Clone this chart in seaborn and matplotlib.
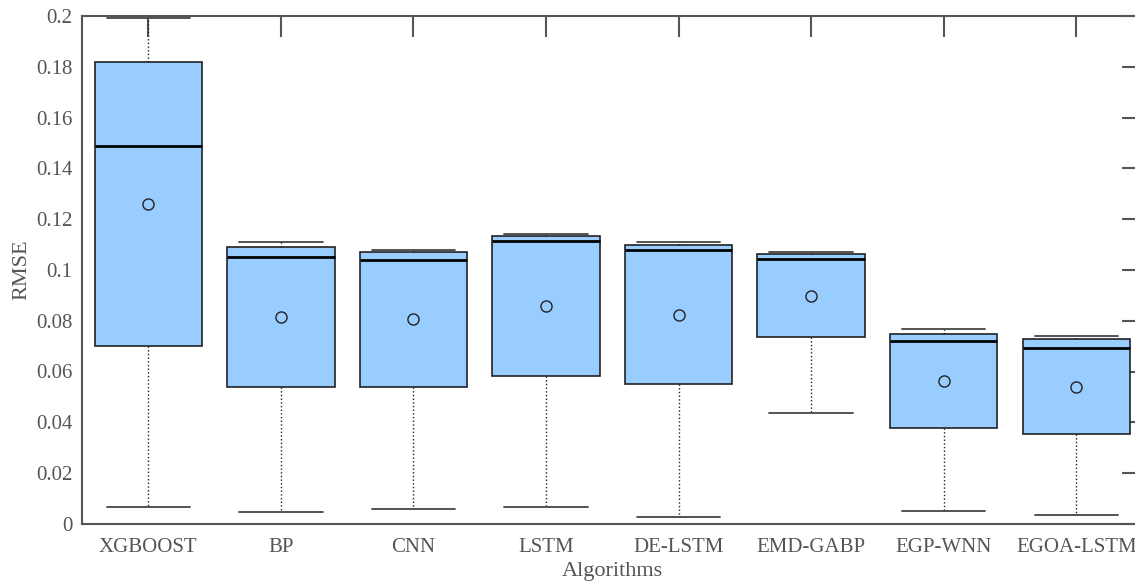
import numpy as np
import pandas as pd
import matplotlib
matplotlib.use("Agg")
import matplotlib.pyplot as plt
import matplotlib.ticker as mticker
import seaborn as sns

# Values (five-number summary + mean per model)
algorithms = ["XGBOOST", "BP", "CNN", "LSTM", "DE-LSTM", "EMD-GABP", "EGP-WNN", "EGOA-LSTM"]
lower_whisker = [0.0065, 0.0045, 0.0058, 0.0066, 0.0028, 0.0436, 0.0050, 0.0036]
q1 = [0.0700, 0.0538, 0.0539, 0.0584, 0.0550, 0.0734, 0.0376, 0.0354]
median = [0.1490, 0.1051, 0.1039, 0.1115, 0.1080, 0.1042, 0.0719, 0.0694]
q3 = [0.1820, 0.1090, 0.1070, 0.1135, 0.1100, 0.1062, 0.0749, 0.0728]
upper_whisker = [0.1992, 0.1110, 0.1080, 0.1142, 0.1110, 0.1070, 0.0767, 0.0740]
mean_rmse = [0.1259, 0.0814, 0.0806, 0.0859, 0.0824, 0.0898, 0.0563, 0.0540]

yticks = [0, 0.02, 0.04, 0.06, 0.08, 0.1, 0.12, 0.14, 0.16, 0.18, 0.2]

TEXT_GREY = "#555555"

rows = []
for i, name in enumerate(algorithms):
    for v in (lower_whisker[i], q1[i], median[i], q3[i], upper_whisker[i]):
        rows.append({"Algorithm": name, "RMSE": v})
df = pd.DataFrame(rows)

sns.set_style("white")
plt.rcParams["font.family"] = ["Liberation Serif", "DejaVu Serif"]

fig = plt.figure(figsize=(11.35, 5.83), dpi=100)
ax = fig.add_axes([82 / 1135, 59.25 / 583, 1060.6 / 1135, 507.5 / 583])

sns.boxplot(
    data=df, x="Algorithm", y="RMSE", order=algorithms,
    whis=(0, 100), width=0.81, color="#99CCFF", saturation=1,
    linecolor="#222222", linewidth=1.2, showfliers=False,
    boxprops=dict(edgecolor="#222222", linewidth=1.2),
    medianprops=dict(color="black", linewidth=2.0),
    whiskerprops=dict(color="#222222", linestyle=":", linewidth=1.0),
    capprops=dict(color="#444444", linewidth=1.3),
    capwidths=0.63,
    ax=ax,
)

sns.pointplot(
    x=algorithms, y=mean_rmse, order=algorithms, errorbar=None,
    color="#222222", marker="o", linestyle="none",
    markerfacecolor="none", markersize=8, markeredgewidth=1.0,
    ax=ax,
)

ax.set_xlim(-0.5, len(algorithms) - 0.5)
ax.set_ylim(0, 0.2)
ax.set_yticks(yticks)
ax.yaxis.set_major_formatter(mticker.FuncFormatter(lambda v, _: f"{v:g}"))

for side in ["left", "right", "top", "bottom"]:
    ax.spines[side].set_visible(True)
    ax.spines[side].set_color(TEXT_GREY)
    ax.spines[side].set_linewidth(1.5)

ax.tick_params(direction="in", top=True, right=True, length=15, width=1.5,
               color=TEXT_GREY, labelcolor=TEXT_GREY, labelsize=15)
ax.tick_params(axis="y", pad=7)
ax.tick_params(axis="x", pad=10)

ax.set_xlabel("Algorithms", fontsize=16, color=TEXT_GREY, labelpad=4)
ax.set_ylabel("RMSE", fontsize=16, color=TEXT_GREY, labelpad=3)

fig.savefig("out.png", dpi=100)
